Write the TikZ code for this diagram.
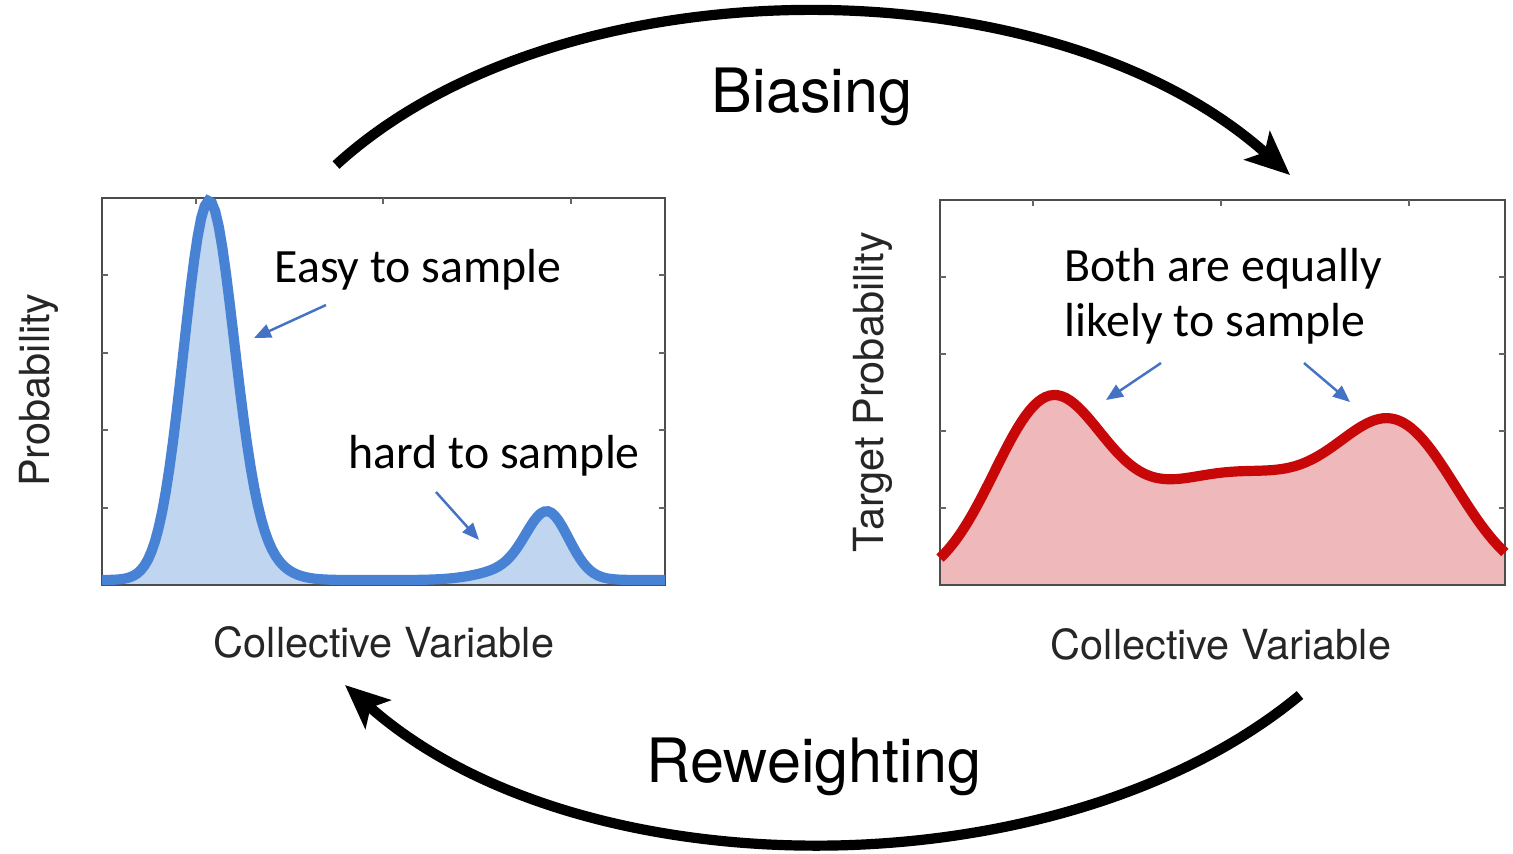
\documentclass[tikz,border=0pt]{standalone}
\usepackage{fontspec}
\usepackage{tikz}
\usetikzlibrary{arrows.meta}

\newfontfamily\helv{TeX Gyre Heros}
\newfontfamily\calibri{Carlito}

\definecolor{curveblue}{RGB}{72,130,212}
\definecolor{fillblue}{RGB}{192,213,240}
\definecolor{curvered}{RGB}{200,8,8}
\definecolor{fillred}{RGB}{239,184,186}
\definecolor{pointerblue}{RGB}{68,114,196}

\tikzset{
  plotframe/.style={draw=black!70, line width=0.8pt},
  axistick/.style={draw=black!60, line width=0.6pt},
  cyclearrow/.style={line width=2.9pt, -{Stealth[length=0.44cm, width=0.38cm, inset=0.1cm]}},
  pointer/.style={pointerblue, line width=0.7pt, -{Triangle[length=0.17cm, width=0.14cm]}},
  axislabel/.style={font=\helv\fontsize{11.8}{13}\selectfont, text=black!85, inner sep=0pt},
  steplabel/.style={font=\helv\fontsize{17.4}{20}\selectfont, inner sep=0pt},
  note/.style={font=\calibri\fontsize{13.6}{15.6}\selectfont, inner sep=0pt, align=left},
}

\begin{document}
\begin{tikzpicture}[
    declare function={leftpdf(\x)=3.62*exp(-((\x-2.08)*(\x-2.08))/0.125)
      +0.30*exp(-((\x-2.40)*(\x-2.40))/0.18)
      +0.60*exp(-((\x-5.48)*(\x-5.48))/0.088)
      +0.12*exp(-((\x-5.20)*(\x-5.20))/0.245);
      rightpdf(\x)=1.68*exp(-((\x-10.47)*(\x-10.47))/0.605)
      +1.10*exp(-((\x-12.30)*(\x-12.30))/2.0)
      +1.38*exp(-((\x-14.00)*(\x-14.00))/0.72);}]

        \useasboundingbox (0,0) rectangle (15.13,-8.53);

        %Left plot
        \fill [fillblue] (1.02,-5.85) -- plot [domain=1.02:6.65, samples=160] (\x,{-5.80+leftpdf(\x)}) -- (6.65,-5.85) -- cycle;
        \draw [plotframe] (1.02,-1.98) rectangle (6.65,-5.85);
        \draw [axistick] (1.96,-1.98) -- ++(0,-0.06) (3.83,-1.98) -- ++(0,-0.06) (5.71,-1.98) -- ++(0,-0.06);
        \draw [axistick] (1.02,-2.75) -- ++(0.06,0) (1.02,-3.53) -- ++(0.06,0) (1.02,-4.30) -- ++(0.06,0) (1.02,-5.08) -- ++(0.06,0);
        \draw [axistick] (6.65,-2.75) -- ++(-0.06,0) (6.65,-3.53) -- ++(-0.06,0) (6.65,-4.30) -- ++(-0.06,0) (6.65,-5.08) -- ++(-0.06,0);
        \draw [curveblue, line width=2.9pt] plot [domain=1.02:6.65, samples=160] (\x,{-5.80+leftpdf(\x)});

        \node [axislabel, rotate=90, anchor=base] (lefty) at (0.50,-3.90) {Probability};
        \node [axislabel, anchor=base] (leftx) at (3.84,-6.57) {Collective Variable};

        %Right plot
        \fill [fillred] (9.40,-5.85) -- plot [domain=9.40:15.05, samples=140] (\x,{-5.85+rightpdf(\x)}) -- (15.05,-5.85) -- cycle;
        \draw [plotframe] (9.40,-2.00) rectangle (15.05,-5.85);
        \draw [axistick] (10.33,-2.00) -- ++(0,-0.06) (12.21,-2.00) -- ++(0,-0.06) (14.09,-2.00) -- ++(0,-0.06);
        \draw [axistick] (9.40,-2.77) -- ++(0.06,0) (9.40,-3.54) -- ++(0.06,0) (9.40,-4.31) -- ++(0.06,0) (9.40,-5.08) -- ++(0.06,0);
        \draw [axistick] (15.05,-2.77) -- ++(-0.06,0) (15.05,-3.54) -- ++(-0.06,0) (15.05,-4.31) -- ++(-0.06,0) (15.05,-5.08) -- ++(-0.06,0);
        \draw [curvered, line width=2.9pt] plot [domain=9.40:15.05, samples=140] (\x,{-5.85+rightpdf(\x)});

        \node [axislabel, rotate=90, anchor=base] (righty) at (8.83,-3.92) {Target Probability};
        \node [axislabel, anchor=base] (rightx) at (12.21,-6.59) {Collective Variable};

        %Notes
        \node [note, anchor=base west] (easy) at (2.74,-2.82) {Easy to sample};
        \node [note, anchor=base west] (hard) at (3.48,-4.68) {hard to sample};
        \node [note, anchor=north west] (both) at (10.64,-2.48) {Both are equally\\likely to sample};

        \coordinate (easytail) at (3.26,-3.05);
        \coordinate (easypeak) at (2.54,-3.38);
        \coordinate (hardtail) at (4.36,-4.92);
        \coordinate (hardpeak) at (4.79,-5.40);
        \coordinate (bothltail) at (11.61,-3.63);
        \coordinate (bothlpeak) at (11.06,-4.00);
        \coordinate (bothrtail) at (13.04,-3.63);
        \coordinate (bothrpeak) at (13.50,-4.02);
        \draw [pointer] (easytail) -- (easypeak);
        \draw [pointer] (hardtail) -- (hardpeak);
        \draw [pointer] (bothltail) -- (bothlpeak);
        \draw [pointer] (bothrtail) -- (bothrpeak);

        %Cycle
        \coordinate (biasfrom) at (3.36,-1.65);
        \coordinate (biasto) at (12.90,-1.75);
        \coordinate (rewfrom) at (13.00,-6.95);
        \coordinate (rewto) at (3.45,-6.85);
        \draw [cyclearrow] (biasfrom) .. controls (5.60,0.40) and (10.50,0.40) .. (biasto);
        \draw [cyclearrow] (rewfrom) .. controls (10.60,-8.94) and (5.80,-8.94) .. (rewto);
        \node [steplabel, anchor=base] (biasing) at (8.12,-1.12) {Biasing};
        \node [steplabel, anchor=base] (reweighting) at (8.14,-7.82) {Reweighting};

\end{tikzpicture}
\end{document}
